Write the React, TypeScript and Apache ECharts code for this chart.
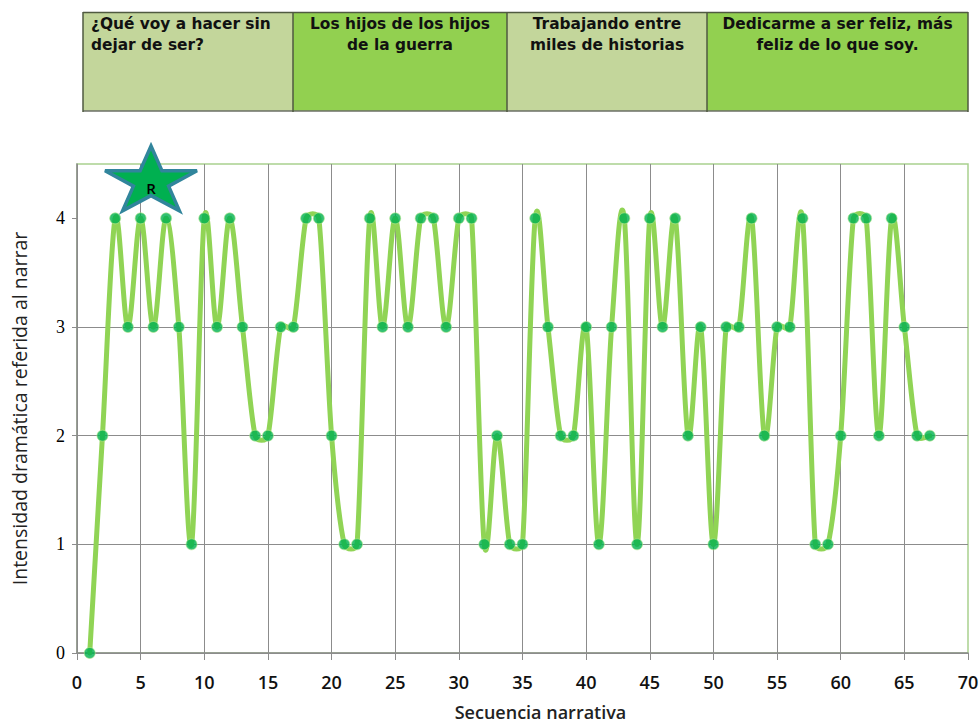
import React, { useEffect, useRef } from "react";
import * as echarts from "echarts";

const sequence = [1,2,3,4,5,6,7,8,9,10,11,12,13,14,15,16,17,18,19,20,21,22,23,24,25,26,27,28,29,30,31,32,33,34,35,36,37,38,39,40,41,42,43,44,45,46,47,48,49,50,51,52,53,54,55,56,57,58,59,60,61,62,63,64,65,66,67];
const intensity = [0,2,4,3,4,3,4,3,1,4,3,4,3,2,2,3,3,4,4,2,1,1,4,3,4,3,4,4,3,4,4,1,2,1,1,4,3,2,2,3,1,3,4,1,4,3,4,2,3,1,3,3,4,2,3,3,4,1,1,2,4,4,2,4,3,2,2];
const yTicks = [0, 1, 2, 3, 4];
const stageTitles = [
  ["¿Qué voy a hacer sin", "dejar de ser?"],
  ["Los hijos de los hijos", "de la guerra"],
  ["Trabajando entre", "miles de historias"],
  ["Dedicarme a ser feliz, más", "feliz de lo que soy."],
];
const stageEdges = [83, 293, 507, 707, 968];
const stageFills = ["#C3D69B", "#92D050", "#C3D69B", "#92D050"];
const xAxisTitle = "Secuencia narrativa";
const yAxisTitle = "Intensidad dramática referida al narrar";
const starLabel = "R";

const starPoints = [[151,146],[161.9,170.8],[197,170.8],[168.6,186.1],[179.4,210.9],[151,195.6],[122.6,210.9],[133.4,186.1],[105,170.8],[140.1,170.8]];

export default function App() {
  const ref = useRef<HTMLDivElement>(null);
  useEffect(() => {
    const chart = echarts.init(ref.current!, undefined, { renderer: "svg" });
    const headerFont = '"DejaVu Sans", Verdana, sans-serif';
    const labelFont = '"Open Sans", sans-serif';
    const stageGraphics: any[] = [];
    stageTitles.forEach((lines, i) => {
      const x0 = stageEdges[i], x1 = stageEdges[i + 1];
      stageGraphics.push({
        type: "rect",
        shape: { x: x0, y: 12, width: x1 - x0, height: 99 },
        style: { fill: stageFills[i], stroke: "none" },
      });
      lines.forEach((line, j) => {
        stageGraphics.push({
          type: "text",
          x: i === 0 ? 91 : (x0 + x1) / 2,
          y: 24 + j * 21,
          style: {
            text: line,
            font: `bold 15.4px ${headerFont}`,
            fill: "#111",
            align: i === 0 ? "left" : "center",
            verticalAlign: "middle",
          },
        });
      });
    });
    const rule = (x1: number, y1: number, x2: number, y2: number, stroke: string, lineWidth = 1.5) => ({
      type: "line",
      shape: { x1, y1, x2, y2 },
      style: { stroke, lineWidth },
    });
    stageGraphics.push(rule(83, 12.5, 968, 12.5, "#4f5a40"));
    stageGraphics.push(rule(83, 111, 968, 111, "#6b6f66"));
    stageEdges.forEach((x) => stageGraphics.push(rule(x, 12, x, 112, "#4f5a40")));

    const points = sequence.map((x, i) => [x, intensity[i]]);
    const dist = (a: number[], b: number[]) => Math.hypot(a[0] - b[0], a[1] - b[1]) || 1e-6;

    chart.setOption({
      animation: false,
      backgroundColor: "#fff",
      grid: { left: 77, right: 12, top: 164, bottom: 70, outerBoundsMode: "none", show: true, borderColor: "#A9D18E", borderWidth: 1.5, backgroundColor: "transparent" },
      xAxis: {
        type: "value", min: 0, max: 70, interval: 5,
        name: xAxisTitle, nameLocation: "middle", nameGap: 50,
        nameTextStyle: { fontFamily: labelFont, fontSize: 18, fontWeight: 600, color: "#222", padding: [0, 0, 0, 36] },
        axisLine: { show: true, onZero: false, lineStyle: { color: "#8c8c8c", width: 1.5 } },
        axisTick: { show: true, length: 7, lineStyle: { color: "#8c8c8c" } },
        axisLabel: { fontFamily: labelFont, fontSize: 18, fontWeight: 600, color: "#111", margin: 20, showMinLabel: true, showMaxLabel: true },
        splitLine: { show: true, showMaxLine: false, lineStyle: { color: "#8c8c8c", width: 1 } },
      },
      yAxis: {
        type: "value", min: 0, max: 4.5, interval: 1,
        name: yAxisTitle, nameLocation: "middle", nameGap: 48, nameRotate: 90,
        nameTextStyle: { fontFamily: labelFont, fontSize: 19.5, color: "#222" },
        axisLine: { show: true, lineStyle: { color: "#8c8c8c", width: 1.5 } },
        axisTick: { show: true, length: 5, customValues: yTicks, lineStyle: { color: "#8c8c8c" } },
        axisLabel: { fontFamily: '"Liberation Serif", serif', fontSize: 18, color: "#000", margin: 12, customValues: yTicks },
        splitLine: { show: true, showMaxLine: false, lineStyle: { color: "#8c8c8c", width: 1 } },
      },
      series: [
        {
          type: "custom",
          coordinateSystem: "cartesian2d",
          data: points,
          encode: { x: 0, y: 1 },
          z: 3,
          silent: true,
          renderItem: (params: any, api: any) => {
            const i = params.dataIndex;
            const last = points.length - 1;
            if (i >= last) return null;
            const at = (j: number) => api.coord(points[Math.max(0, Math.min(last, j))]);
            const p0 = at(i - 1), p1 = at(i), p2 = at(i + 1), p3 = at(i + 2);
            const d02 = dist(p0, p2), d12 = dist(p1, p2), d13 = dist(p1, p3);
            let k1: number, k2: number;
            if (d02 / 6 < d12 / 2 && d13 / 6 < d12 / 2) {
              k1 = i === 0 ? 1 / 3 : 1 / 6;
              k2 = i === last - 1 ? 1 / 3 : 1 / 6;
            } else if (d02 / 6 >= d12 / 2 && d13 / 6 >= d12 / 2) {
              k1 = d12 / 2 / d02;
              k2 = d12 / 2 / d13;
            } else if (d02 / 6 >= d12 / 2) {
              k1 = d12 / 2 / d02;
              k2 = (d12 / 2 / d13) * (d13 / d02);
            } else {
              k1 = (d12 / 2 / d02) * (d02 / d13);
              k2 = d12 / 2 / d13;
            }
            return {
              type: "bezierCurve",
              shape: {
                x1: p1[0], y1: p1[1],
                cpx1: p1[0] + (p2[0] - p0[0]) * k1, cpy1: p1[1] + (p2[1] - p0[1]) * k1,
                cpx2: p2[0] - (p3[0] - p1[0]) * k2, cpy2: p2[1] - (p3[1] - p1[1]) * k2,
                x2: p2[0], y2: p2[1],
              },
              style: { stroke: "#90D455", lineWidth: 5, fill: "none", lineCap: "round" },
            };
          },
        },
        {
          type: "scatter",
          data: points,
          z: 4,
          symbol: "circle",
          symbolSize: 11,
          itemStyle: { color: "#00B050", borderColor: "#B5E88F", borderWidth: 0.8 },
        },
      ],
      graphic: [
        ...stageGraphics,
        { type: "polygon", z: 100, shape: { points: starPoints }, style: { fill: "#00B050", stroke: "#31859C", lineWidth: 3.5, lineJoin: "miter" } },
        { type: "text", z: 101, x: 151, y: 188, style: { text: starLabel, font: `600 15px ${labelFont}`, fill: "#000", align: "center", verticalAlign: "middle" } },
      ],
    });
    return () => chart.dispose();
  }, []);
  return <div ref={ref} style={{ position: "fixed", left: 0, top: 0, width: 980, height: 723 }} />;
}
